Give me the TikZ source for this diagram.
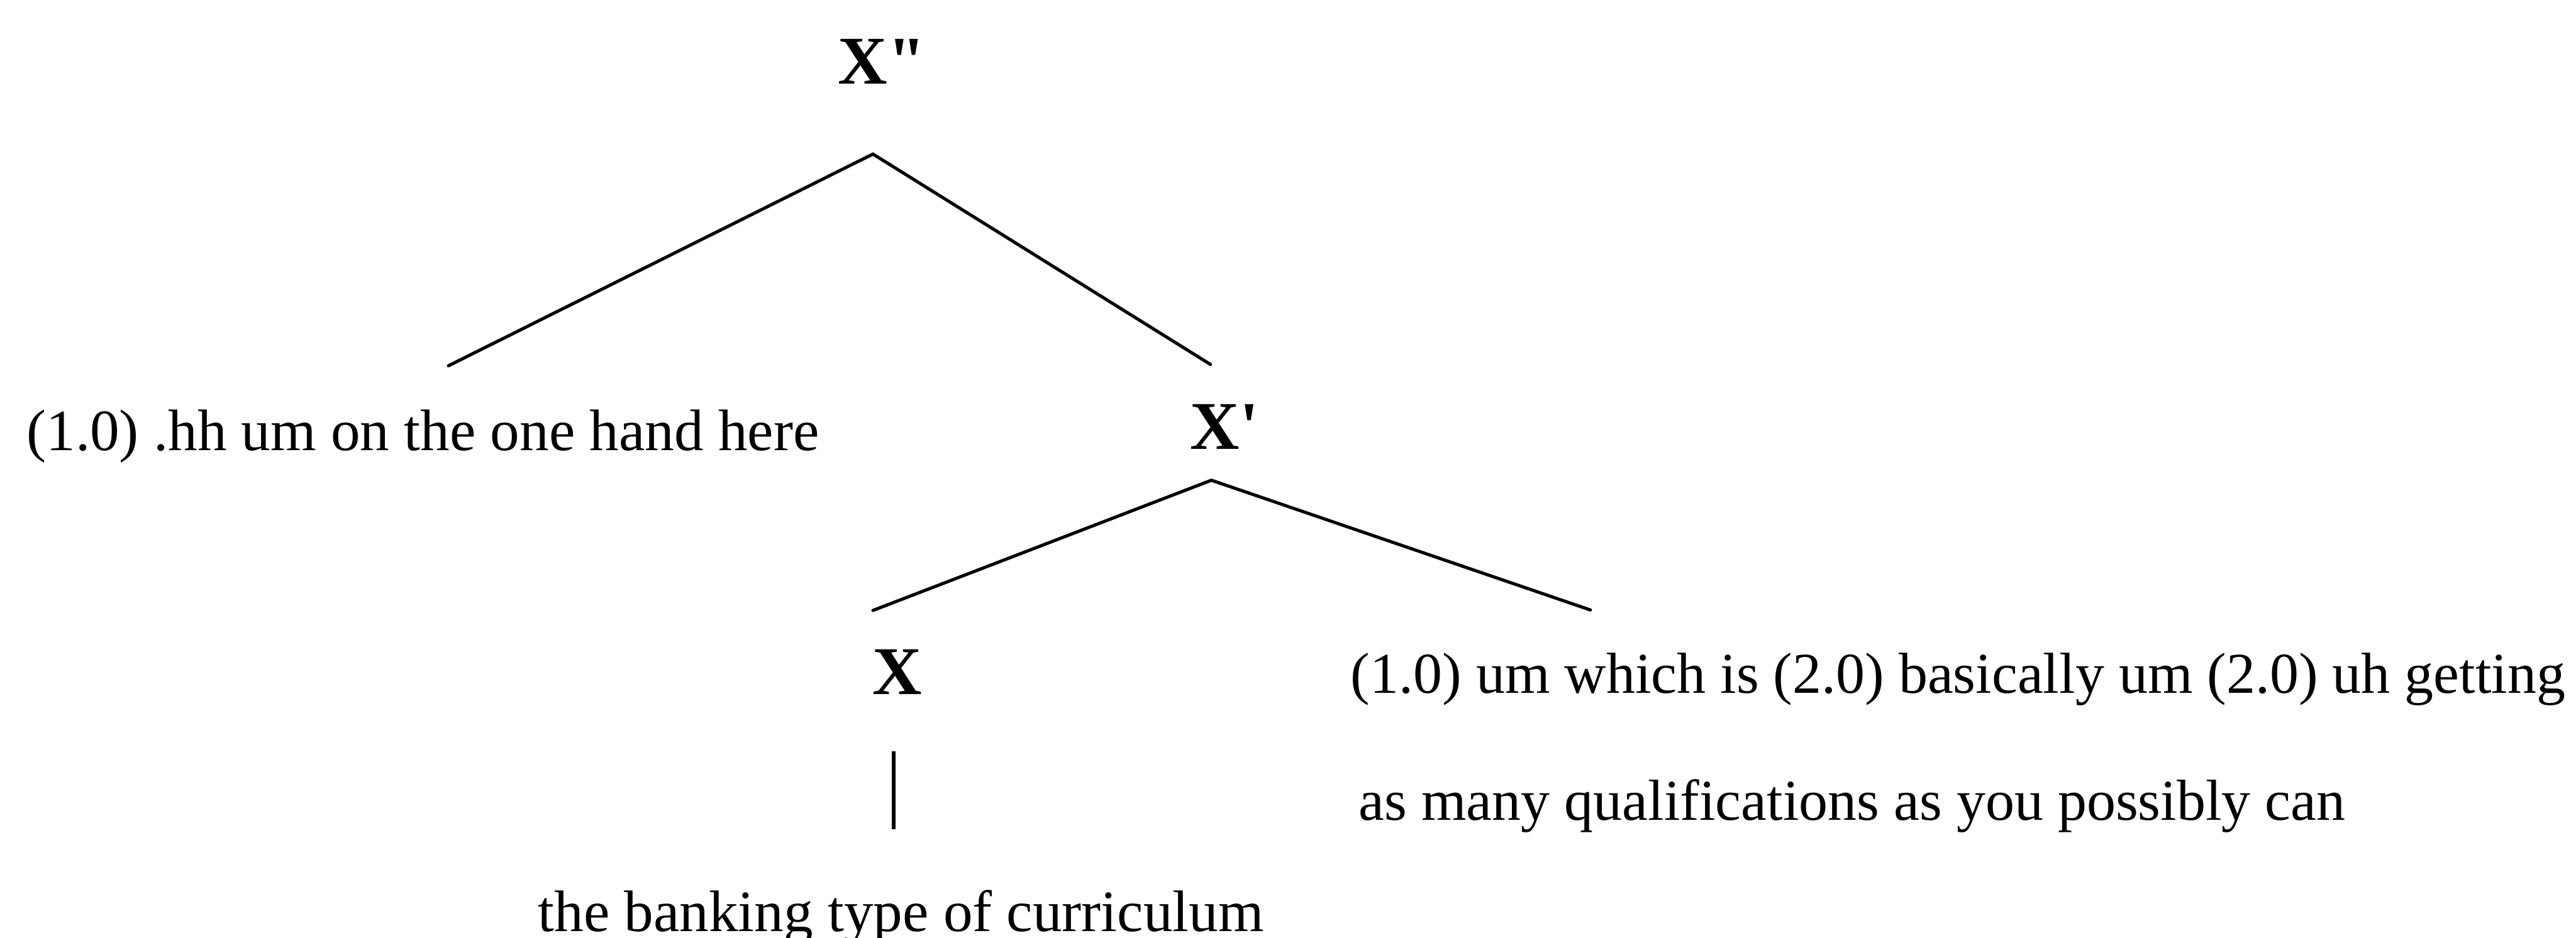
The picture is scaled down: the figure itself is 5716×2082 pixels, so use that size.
\documentclass[tikz,border=0pt]{standalone}
\usepackage{fontspec}
\setmainfont{Liberation Serif}
\newfontfamily\catfont{Liberation Serif}[Ligatures=TeXOff]
\begin{document}
\begin{tikzpicture}[x=0.0923pt, y=-0.0923pt,
  cat/.style={inner sep=0pt, anchor=base west, font=\catfont\fontsize{14}{16}\selectfont\bfseries},
  leaf/.style={inner sep=0pt, anchor=base west, font=\fontsize{12}{14}\selectfont},
  leafnarrow/.style={inner sep=0pt, anchor=base west, font=\fontsize{11.85}{14}\selectfont},
  branch/.style={line width=0.65pt, line cap=round, line join=miter},
  stem/.style={line width=0.8pt}]
\useasboundingbox (0,0) rectangle (5716,2082);
% labels
\node[cat] (xpp) at (1858,187) {X"};
\node[leaf] (leafA) at (57,1000) {(1.0) .hh um on the one hand here};
\node[cat] (xp) at (2639,997) {X'};
\node[cat] (x) at (1934,1541) {X};
\node[leafnarrow] (leafB1) at (2995,1538) {(1.0) um which is (2.0) basically um (2.0) uh getting};
\node[leafnarrow] (leafB2) at (3013,1820) {as many qualifications as you possibly can};
\node[leaf] (leafC) at (1192,2068) {the banking type of curriculum};
% branch points
\coordinate (xppTop) at (1937,342);
\coordinate (leafAEnd) at (995,812);
\coordinate (xpEnd) at (2686,809);
\coordinate (xpTop) at (2688,1066);
\coordinate (xEnd) at (1937,1355);
\coordinate (leafBEnd) at (3529,1354);
\coordinate (xBottom) at (1983,1668);
\coordinate (leafCEnd) at (1983,1840);
% connectors
\draw[branch] (leafAEnd) -- (xppTop) -- (xpEnd);
\draw[branch] (xEnd) -- (xpTop) -- (leafBEnd);
\draw[stem] (xBottom) -- (leafCEnd);
\end{tikzpicture}
\end{document}
